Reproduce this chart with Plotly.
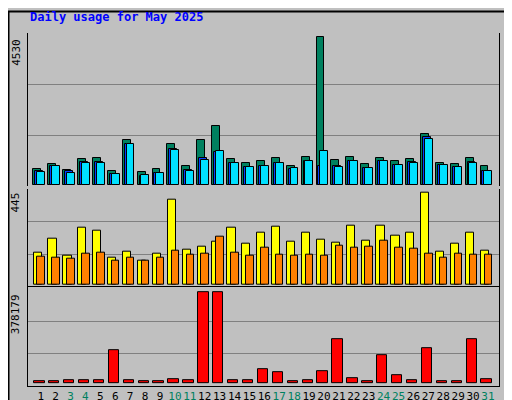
import plotly.graph_objs as go

days = list(range(1, 32))
weekend = [3, 4, 10, 11, 17, 18, 24, 25, 31]

hits = [471, 625, 441, 779, 810, 410, 1363, 379, 471, 1240, 564, 1363, 1794, 779, 656, 718,
        810, 564, 840, 4530, 748, 840, 625, 810, 718, 779, 1548, 656, 625, 810, 564]
files = [410, 564, 410, 687, 687, 318, 1240, 256, 349, 1087, 441, 810, 994, 656, 533, 564,
         656, 471, 718, 564, 564, 718, 502, 718, 595, 687, 1456, 595, 533, 687, 410]
pages = [379, 564, 349, 656, 656, 318, 1240, 287, 349, 1056, 410, 748, 1025, 656, 533, 564,
         656, 502, 718, 1025, 533, 718, 502, 718, 595, 656, 1394, 595, 533, 656, 410]
visits = [156, 223, 141, 276, 262, 132, 161, 117, 151, 411, 170, 185, 209, 276, 199, 252,
          281, 209, 252, 218, 204, 286, 214, 286, 238, 252, 445, 161, 199, 252, 165]
sites = [137, 132, 127, 151, 156, 117, 132, 117, 132, 165, 146, 151, 233, 156, 141, 180,
         146, 141, 146, 141, 190, 180, 185, 214, 180, 175, 151, 132, 151, 146, 146]
kbytes = [5000, 5000, 11000, 11000, 11000, 138000, 11000, 5000, 5000, 15000, 11000, 378179,
          378179, 11000, 11000, 55000, 43000, 5000, 11000, 47000, 183500, 18000, 5000, 117000,
          30000, 11000, 146000, 5000, 5000, 183500, 15000]

font = 'DejaVu Sans Mono'
line = dict(color='black', width=1)

fig = go.Figure()
# top panel: hits / files / pages
fig.add_trace(go.Bar(x=days, y=hits, width=0.53, offset=-0.5, marker=dict(color='#00805F', line=line), yaxis='y'))
fig.add_trace(go.Bar(x=days, y=files, width=0.53, offset=-0.37, marker=dict(color='#0040FF', line=line), yaxis='y'))
fig.add_trace(go.Bar(x=days, y=pages, width=0.53, offset=-0.24, marker=dict(color='#00E0FF', line=line), yaxis='y'))
# middle panel: visits / sites
fig.add_trace(go.Bar(x=days, y=visits, width=0.55, offset=-0.48, marker=dict(color='#FFFF00', line=line), yaxis='y2'))
fig.add_trace(go.Bar(x=days, y=sites, width=0.5, offset=-0.22, marker=dict(color='#FF8000', line=line), yaxis='y2'))
# bottom panel: kbytes
fig.add_trace(go.Bar(x=days, y=kbytes, width=0.7, offset=-0.44, marker=dict(color='#FF0000', line=line), yaxis='y3'))

ticktext = ['<span style="color:#00805F">%d</span>' % d if d in weekend else str(d) for d in days]

yax = dict(showticklabels=False, ticks='', gridcolor='#808080', gridwidth=1, zeroline=False,
           showline=True, linecolor='black', mirror=True, fixedrange=True)

fig.update_layout(
    width=512, height=400,
    margin=dict(l=20, r=21, t=25, b=22, autoexpand=False),
    paper_bgcolor='#C0C0C0', plot_bgcolor='#C0C0C0',
    showlegend=False, barmode='overlay', bargap=0,
    font=dict(family=font, size=11, color='black'),
    xaxis=dict(range=[0.148, 31.74], tickvals=days, ticktext=ticktext, ticks='', showgrid=False,
               tickangle=0, automargin=False,
               showline=True, linecolor='black', mirror=True, anchor='y3', tickfont=dict(size=11)),
    yaxis=dict(yax, domain=[0.567, 1], range=[-40, 4653], tickvals=[1515, 3079]),
    yaxis2=dict(yax, domain=[0.280, 0.559], range=[-11, 462], tickvals=[146, 305]),
    yaxis3=dict(yax, domain=[0, 0.280], range=[-13650, 400150], tickvals=[121600, 258000]),
    annotations=[
        dict(text='<b>Daily usage for May 2025</b>', xref='paper', yref='paper', x=-0.0, y=1.02,
             xanchor='left', yanchor='bottom', showarrow=False, font=dict(color='#0000FF', size=12)),
        dict(text='4530', xref='paper', yref='paper', x=-0.008, y=0.99, textangle=-90,
             xanchor='right', yanchor='top', showarrow=False),
        dict(text='445', xref='paper', yref='paper', x=-0.008, y=0.553, textangle=-90,
             xanchor='right', yanchor='top', showarrow=False),
        dict(text='378179', xref='paper', yref='paper', x=-0.008, y=0.265, textangle=-90,
             xanchor='right', yanchor='top', showarrow=False),
        dict(text='<span style="color:#00E0FF">Pages</span>/<span style="color:#0040FF">Files</span>/'
                  '<span style="color:#00805F">Hits</span>',
             xref='paper', yref='paper', x=1.004, y=0.99, textangle=-90, xanchor='left', yanchor='top',
             showarrow=False),
        dict(text='<span style="color:#FF8000">Sites</span>/<span style="color:#FFFF00">Visits</span>',
             xref='paper', yref='paper', x=1.004, y=0.555, textangle=-90, xanchor='left', yanchor='top',
             showarrow=False),
        dict(text='<span style="color:#FF0000">KBytes</span>',
             xref='paper', yref='paper', x=1.004, y=0.01, textangle=-90, xanchor='left', yanchor='bottom',
             showarrow=False),
    ],
    shapes=[
        dict(type='rect', xref='paper', yref='paper', x0=-19.5 / 471, x1=491 / 471, y0=-21.5 / 353, y1=374.5 / 353,
             line=dict(color='black', width=2)),
        dict(type='line', xref='paper', yref='paper', x0=-18 / 471, x1=489 / 471, y0=-19 / 353, y1=-19 / 353,
             line=dict(color='#808080', width=2)),
        dict(type='line', xref='paper', yref='paper', x0=489 / 471, x1=489 / 471, y0=-19 / 353, y1=372 / 353,
             line=dict(color='#808080', width=2)),
    ],
)

fig.write_html('out.html')
